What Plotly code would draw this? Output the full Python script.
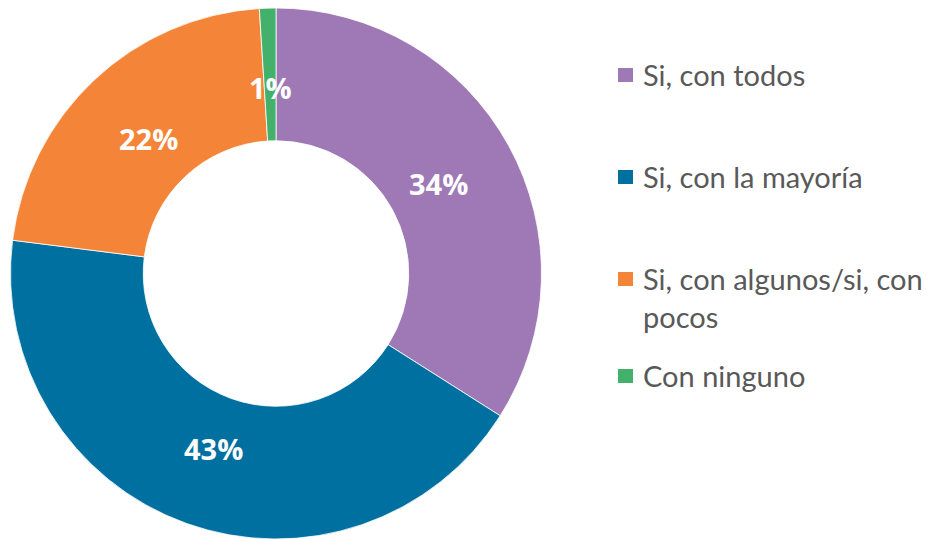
import math
import plotly.graph_objects as go

# Survey answers and their shares (%)
categories = ["Si, con todos", "Si, con la mayoría", "Si, con algunos/si, con pocos", "Con ninguno"]
legend_labels = ["Si, con todos", "Si, con la mayoría", "Si, con algunos/si, con<br>pocos", "Con ninguno"]
values = [34, 43, 22, 1]
colors = ["#9E79B6", "#0070A0", "#F48438", "#43B06B"]

W, H = 932, 539
R = 265.5                 # outer radius, px
CX, CY = 276, H - R       # donut centre, px from top-left
HOLE = 0.5

fig = go.Figure(go.Pie(
    labels=categories,
    values=values,
    hole=HOLE,
    sort=False,
    direction="clockwise",
    rotation=0,
    marker=dict(colors=colors, line=dict(color="white", width=0.8)),
    textinfo="none",
    hoverinfo="label+percent",
    showlegend=False,
    domain=dict(x=[(CX - R) / W, (CX + R) / W], y=[0, 2 * R / H]),
))

annotations = []
shapes = []

# Percentage labels placed on each slice's mid-angle inside the ring
total = sum(values)
cum = 0
for v in values:
    mid = (cum + v / 2) / total * 2 * math.pi
    cum += v
    r = 0.70 * R
    px = CX + r * math.sin(mid)
    py = CY - r * math.cos(mid)
    annotations.append(dict(
        x=px / W, y=1 - py / H, xref="paper", yref="paper",
        text=f"<b>{round(v / total * 100)}%</b>", showarrow=False,
        font=dict(family="Open Sans", size=29, color="white"),
        xanchor="center", yanchor="middle",
    ))

# Legend drawn on the right
legend_y = [75, 177, 279, 376]
for name, col, ly in zip(legend_labels, colors, legend_y):
    shapes.append(dict(
        type="rect", xref="paper", yref="paper",
        x0=618 / W, x1=633 / W, y0=1 - (ly + 7) / H, y1=1 - (ly - 7) / H,
        fillcolor=col, line=dict(width=0),
    ))
    annotations.append(dict(
        x=641 / W, y=1 - (ly - 20) / H, xref="paper", yref="paper",
        text=name, showarrow=False, align="left",
        font=dict(family="Lato", size=29, color="#595959"),
        xanchor="left", yanchor="top",
    ))

fig.update_layout(
    width=W, height=H,
    margin=dict(l=0, r=0, t=0, b=0),
    paper_bgcolor="white", plot_bgcolor="white",
    annotations=annotations, shapes=shapes,
)

fig.write_html("out.html")
